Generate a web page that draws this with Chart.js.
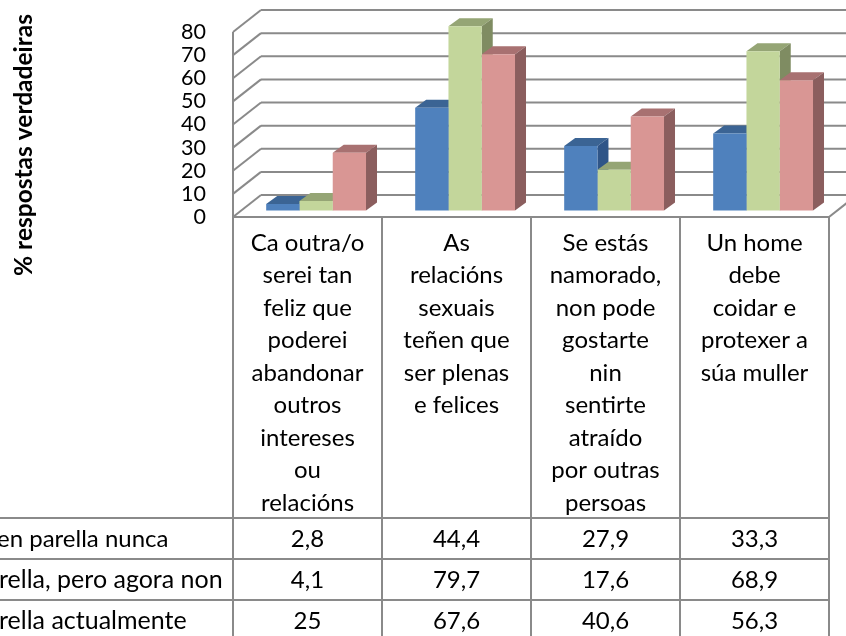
<!DOCTYPE html>
<html><head><meta charset="utf-8">
<style>html,body{margin:0;padding:0;background:#fff;overflow:hidden}canvas{display:block}</style>
<script src="https://cdn.jsdelivr.net/npm/chart.js@4"></script>
</head><body>
<canvas id="c" width="846" height="636"></canvas>
<script>
const categories = [
  ["Ca outra/o","serei tan","feliz que","poderei","abandonar","outros","intereses","ou","relacións"],
  ["As","relacións","sexuais","teñen que","ser plenas","e felices"],
  ["Se estás","namorado,","non pode","gostarte","nin","sentirte","atraído","por outras","persoas"],
  ["Un home","debe","coidar e","protexer a","súa muller"]
];
const seriesNames = ["en parella nunca","rella, pero agora non","rella actualmente"];
const seriesA = [2.8,44.4,27.9,33.3];
const seriesB = [4.1,79.7,17.6,68.9];
const seriesC = [25,67.6,40.6,56.3];
const yTitle = "% respostas verdadeiras";

const FONT = "Lato, Carlito, sans-serif";
const GRID = "#8a8a8a";
const front = ["#4F81BD","#C3D69B","#D99694"];
const topC  = ["#3B6494","#95A575","#A87171"];
const sideC = ["#2F5588","#7F8C62","#8B5E5E"];
const DEPTH_X = 28, DEPTH_Y = 22;      // wall depth
const BAR_DX = 8.6, BAR_DY = -6.5;     // bars stand mid-floor
const FACE_X = 11, FACE_Y = 8;         // bar depth
const ROW_Y = [518,559,600,641];
const NAME_SIZE = [24,25,25], NAME_X = [-3,-1,-1];

function line(ctx,x1,y1,x2,y2){ctx.beginPath();ctx.moveTo(x1,y1);ctx.lineTo(x2,y2);ctx.stroke();}
function poly(ctx,pts,c){ctx.fillStyle=c;ctx.beginPath();pts.forEach((p,i)=>i?ctx.lineTo(p[0],p[1]):ctx.moveTo(p[0],p[1]));ctx.closePath();ctx.fill();}

const walls3d = {
  id:"walls3d",
  beforeDatasetsDraw(chart){
    const {ctx,scales:{x,y},chartArea:a}=chart;
    ctx.save();
    ctx.strokeStyle=GRID;ctx.lineWidth=2;
    y.ticks.forEach(t=>{
      const py=y.getPixelForValue(t.value);
      line(ctx,a.left,py,a.left+DEPTH_X,py-DEPTH_Y);
      line(ctx,a.left+DEPTH_X,py-DEPTH_Y,a.right+DEPTH_X,py-DEPTH_Y);
    });
    line(ctx,a.left,a.top,a.left,a.bottom);
    line(ctx,a.right,a.bottom,a.right+DEPTH_X,a.bottom-DEPTH_Y);
    ctx.restore();
    // bar depth faces, in series order, beneath all front faces
    ctx.save();
    ctx.translate(BAR_DX,BAR_DY);
    chart.data.datasets.forEach((ds,i)=>{
      chart.getDatasetMeta(i).data.forEach(b=>{
        const l=b.x-b.width/2,r=b.x+b.width/2,t=b.y,bt=b.base;
        poly(ctx,[[l,t],[r,t],[r+FACE_X,t-FACE_Y],[l+FACE_X,t-FACE_Y]],topC[i]);
        poly(ctx,[[r,t],[r+FACE_X,t-FACE_Y],[r+FACE_X,bt-FACE_Y],[r,bt]],sideC[i]);
      });
    });
  },
  afterDatasetsDraw(chart){ chart.ctx.restore(); },
  afterDraw(chart){
    const {ctx,scales:{x},chartArea:a}=chart;
    const H=chart.height;
    ctx.save();
    ctx.strokeStyle=GRID;ctx.lineWidth=2;
    line(ctx,a.left,a.bottom,a.right,a.bottom);
    const step=(a.right-a.left)/categories.length;
    for(let i=0;i<=categories.length;i++){
      const px=a.left+i*step;
      line(ctx,px,a.bottom,px,H);
    }
    ROW_Y.forEach(y=>line(ctx,0,y,a.right,y));
    ctx.fillStyle="#000";
    ctx.textBaseline="middle";
    chart.data.datasets.forEach((ds,r)=>{
      const cy=(ROW_Y[r]+ROW_Y[r+1])/2+0.5;
      ctx.textAlign="left";
      ctx.font=NAME_SIZE[r]+"px "+FONT;
      ctx.fillText(seriesNames[r],NAME_X[r],cy);
      ctx.textAlign="center";
      ctx.font="24px "+FONT;
      ds.data.forEach((v,i)=>{
        ctx.fillText(String(v).replace(".",","),x.getPixelForValue(i),cy);
      });
    });
    ctx.translate(32,145);
    ctx.rotate(-Math.PI/2);
    ctx.font="bold 24.5px "+FONT;
    ctx.textAlign="center";
    ctx.textBaseline="alphabetic";
    ctx.fillText(yTitle,0,0);
    ctx.restore();
  }
};

new Chart(document.getElementById("c"),{
  type:"bar",
  data:{
    labels:categories,
    datasets:[seriesA,seriesB,seriesC].map((d,i)=>({
      label:seriesNames[i],data:d,backgroundColor:front[i],borderWidth:0,
      categoryPercentage:0.67,barPercentage:1,clip:false
    }))
  },
  options:{
    responsive:false,animation:false,devicePixelRatio:1,
    layout:{padding:{top:32,right:17,bottom:0,left:0}},
    plugins:{legend:{display:false},tooltip:{enabled:false},title:{display:false}},
    scales:{
      x:{
        grid:{display:false},border:{display:false},
        afterFit(s){s.height=419;},
        ticks:{autoSkip:false,maxRotation:0,minRotation:0,padding:2,color:"#000",
          font:{family:FONT,size:24,lineHeight:1.354}}
      },
      y:{
        min:0,max:80,
        grid:{display:false},border:{display:false},
        afterFit(s){s.width=233;},
        ticks:{stepSize:10,autoSkip:false,padding:19,color:"#000",font:{family:FONT,size:21.5}}
      }
    }
  },
  plugins:[walls3d]
});
</script>
</body></html>
